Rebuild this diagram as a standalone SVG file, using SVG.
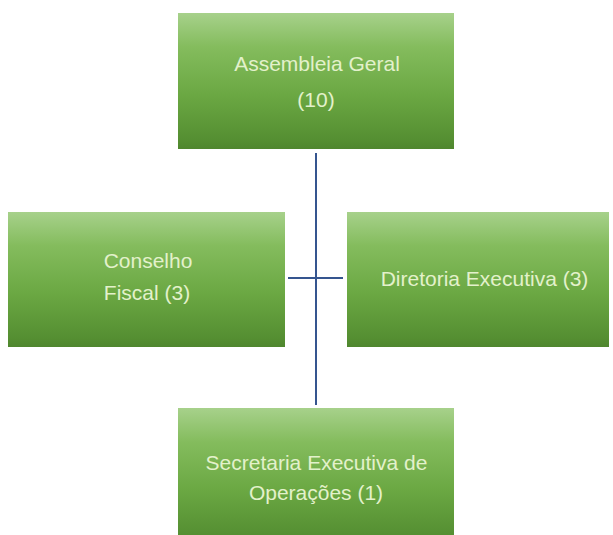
<svg xmlns="http://www.w3.org/2000/svg" width="613" height="535" viewBox="0 0 613 535">
<defs>
<linearGradient id="g" x1="0" y1="0" x2="0" y2="1">
<stop offset="0" stop-color="#a7d18b"/>
<stop offset="0.25" stop-color="#84bc5d"/>
<stop offset="0.6" stop-color="#6ba843"/>
<stop offset="0.93" stop-color="#558f32"/>
<stop offset="1" stop-color="#4f862e"/>
</linearGradient>
<style>
.box{fill:url(#g);}
.t{font-family:"Liberation Sans",Arial,sans-serif;font-size:21px;fill:#e3f1cb;text-anchor:middle;}
.c{stroke:#35558f;stroke-width:2;fill:none;}
</style>
</defs>
<rect width="613" height="535" fill="#ffffff"/>
<g id="connectors">
<line class="c" x1="316" y1="153" x2="316" y2="405"/>
<line class="c" x1="288" y1="278" x2="343" y2="278"/>
</g>
<g id="assembleia">
<rect class="box" x="178" y="13" width="276" height="136"/>
<text class="t" x="317" y="71">Assembleia Geral</text>
<text class="t" x="316" y="107">(10)</text>
</g>
<g id="conselho">
<rect class="box" x="8" y="212" width="277" height="135"/>
<text class="t" x="148" y="268">Conselho</text>
<text class="t" x="147" y="300">Fiscal (3)</text>
</g>
<g id="diretoria">
<rect class="box" x="347" y="212" width="262" height="135"/>
<text class="t" x="484.5" y="286">Diretoria Executiva (3)</text>
</g>
<g id="secretaria">
<rect class="box" x="178" y="408" width="276" height="136"/>
<text class="t" x="316.5" y="470">Secretaria Executiva de</text>
<text class="t" x="316" y="500">Operações (1)</text>
</g>
</svg>
